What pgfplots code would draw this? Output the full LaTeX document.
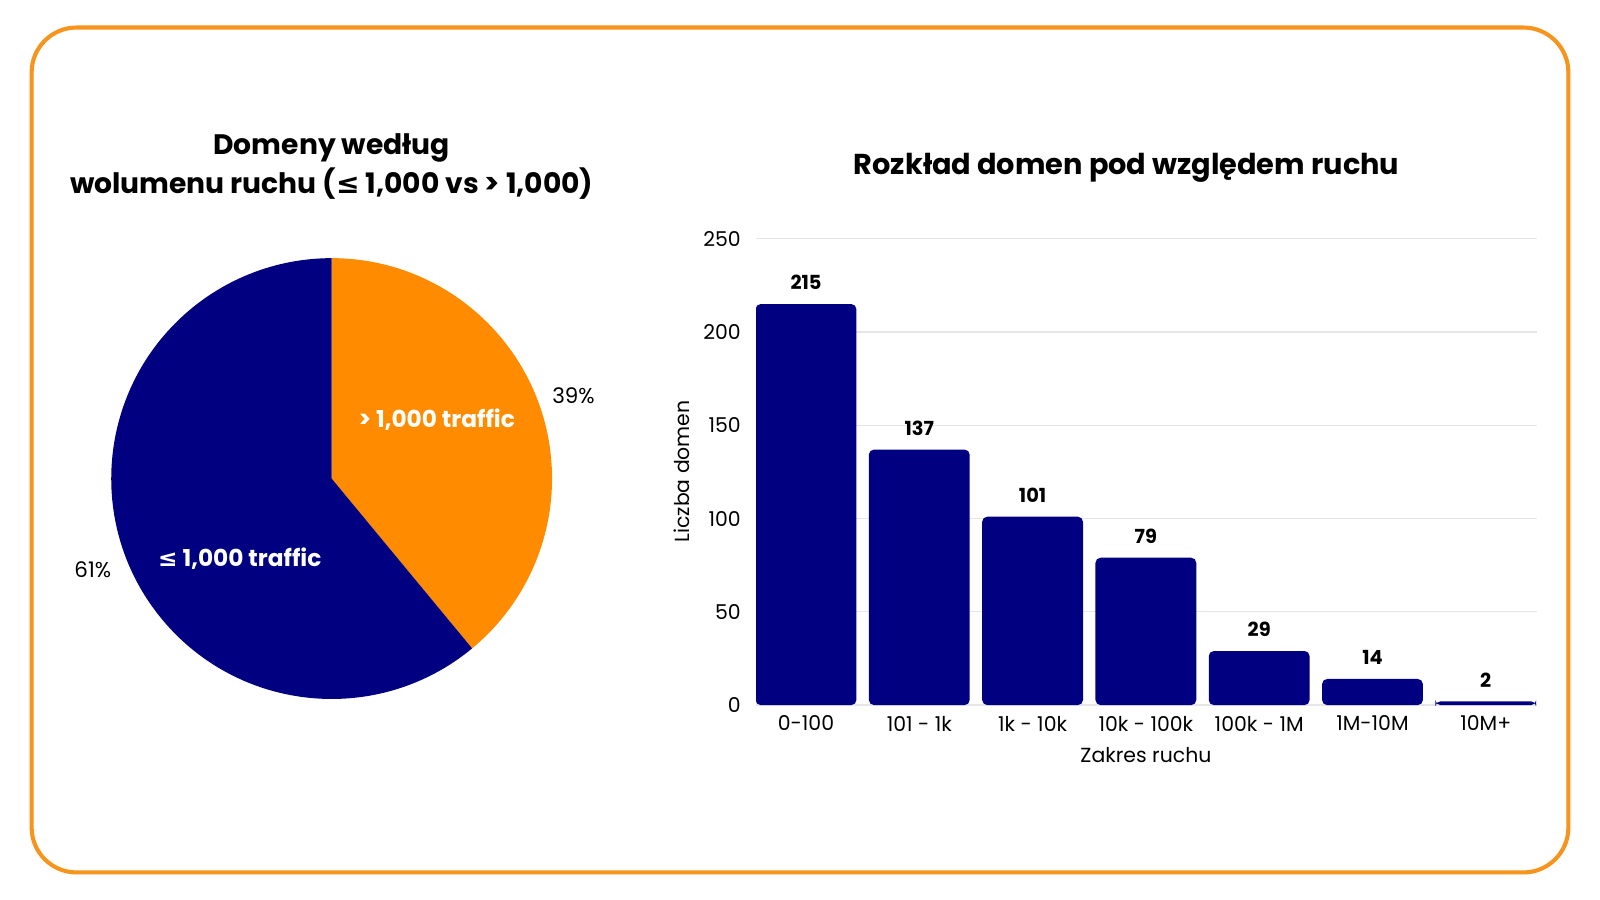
\documentclass[border=0pt]{standalone}
\usepackage{fontspec}
\setmainfont{Poppins}
\newfontfamily\djv{DejaVu Sans}
\usepackage{pgfplots}
\pgfplotsset{compat=1.18}
\definecolor{navy}{HTML}{000080}
\definecolor{orng}{HTML}{FF8C00}
\definecolor{bord}{HTML}{F7941D}
\definecolor{gridc}{HTML}{E6E6E6}
\begin{document}
\begin{tikzpicture}[x=0.5pt,y=0.5pt]
\fill[white] (0,0) rectangle (1568,882);
\draw[bord, line width=2pt, rounded corners=22pt] (31,27) rectangle (1537,855);
% pie
\def\pA{39}\def\pB{61}
\pgfmathsetmacro\angA{90-3.6*\pA}
\pgfmathsetmacro\angB{\angA-3.6*\pB}
\fill[orng] (325,413) -- ++(90:108pt) arc[start angle=90,end angle=\angA,radius=108pt] -- cycle;
\fill[navy] (325,413) -- ++(\angA:108pt) arc[start angle=\angA,end angle=\angB,radius=108pt] -- cycle;
\node[white,font=\bfseries\fontsize{11.4}{13}\selectfont] at (428,471) {> 1,000 traffic};
\node[white,font=\bfseries\fontsize{11.4}{13}\selectfont] at (235,334) {{\djv ≤} 1,000 traffic};
\node[font=\fontsize{10.5}{12}\selectfont] at (562,494) {39\%};
\node[font=\fontsize{10.5}{12}\selectfont] at (91,324) {61\%};
% titles
\node[align=center,font=\bfseries\fontsize{13.8}{19}\selectfont] at (325,719) {Domeny według\\wolumenu ruchu ({\djv ≤} 1,000 vs > 1,000)};
\node[font=\bfseries\fontsize{14.1}{16}\selectfont] at (1104,718) {Rozkład domen pod względem ruchu};
% bar chart
\begin{axis}[at={(370.5pt,95.5pt)}, anchor=south west, scale only axis,
  width=382.5pt, height=228.5pt,
  xmin=-0.44, xmax=6.45, ymin=0, ymax=250,
  ytick={0,50,100,150,200,250},
  xtick={0,1,2,3,4,5,6},
  xticklabels={0-100,101 - 1k,1k - 10k,10k - 100k,100k - 1M,1M-10M,10M+},
  axis line style={draw=none}, major tick style={draw=none},
  ymajorgrids, grid style={draw=gridc, line width=0.6pt},
  /pgf/number format/assume math mode=true,
  ticklabel style={font=\fontsize{10}{12}\selectfont},
  xticklabel style={yshift=2.5pt},
  yticklabel style={xshift=-4pt},
  ybar, bar width=0.89,
  nodes near coords,
  every node near coord/.append style={font=\bfseries\fontsize{9.5}{11}\selectfont, black, yshift=3.5pt},
]
\addplot[fill=navy, draw=none, rounded corners=2.5pt] coordinates {(0,215) (1,137) (2,101) (3,79) (4,29) (5,14) (6,2)};
\end{axis}
\node[rotate=90,font=\fontsize{10}{12}\selectfont] at (668,420) {Liczba domen};
\node[font=\fontsize{10}{12}\selectfont] at (1123,142) {Zakres ruchu};
\end{tikzpicture}%
\end{document}
